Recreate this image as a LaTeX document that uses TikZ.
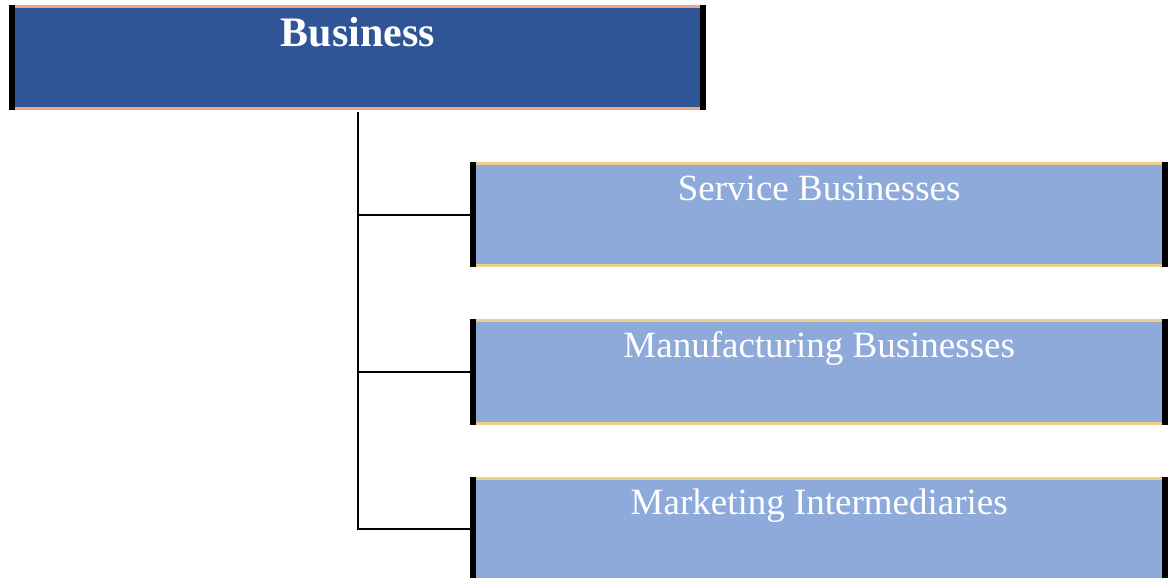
\documentclass[tikz,border=0pt]{standalone}
\usepackage{fontspec}
\setmainfont{Liberation Serif}
\usetikzlibrary{positioning}

\definecolor{bizblue}{HTML}{2F5597}
\definecolor{subblue}{HTML}{8EAADB}
\definecolor{peachline}{HTML}{EBA784}
\definecolor{goldline}{HTML}{ECCF88}

\tikzset{
  %% Top-level box
  headbox/.style={
    rectangle, fill=bizblue, text=white, anchor=north west,
    minimum width=691pt, inner sep=0pt,
    text height=39.5pt, text depth=62.5pt,
    font=\fontsize{42}{42}\selectfont\bfseries
  },
  %% Branch box
  subbox/.style={
    rectangle, fill=subblue, text=white,
    minimum width=692pt, inner sep=0pt,
    text height=36.5pt, text depth=65.5pt,
    font=\fontsize{37}{37}\selectfont
  },
  %% Connector
  link/.style={draw=black, line width=2pt},
  %% Box edges
  rim/.style={draw=#1, line width=3pt},
  side/.style={draw=black, line width=6pt,
               shorten <=-1.5pt, shorten >=-1.5pt},
}

\begin{document}
\begin{tikzpicture}[x=1pt, y=1pt, node distance=55pt]

  \useasboundingbox (0,0) rectangle (1176,578);
  \clip (0,0) rectangle (1176,578);

  \node[headbox] (biz) at (12,571.5) {Business};

  \node[subbox, anchor=north west] (svc) at (473,414.5)
       {Service Businesses};
  \node[subbox, below=of svc] (mfg) {Manufacturing Businesses};
  \node[subbox, below=of mfg] (mkt) {Marketing Intermediaries};

  %% Tree lines
  \foreach \b in {svc, mfg, mkt}
    \draw[link, shorten <=3.5pt] (biz.south) |- (\b.west);

  %% Coloured rims and black sides
  \foreach \n/\c in {biz/peachline, svc/goldline, mfg/goldline, mkt/goldline} {
    \draw[rim=\c] (\n.north west) -- (\n.north east)
                  (\n.south west) -- (\n.south east);
    \draw[side] (\n.north west) -- (\n.south west);
    \draw[side] (\n.north east) -- (\n.south east);
  }

\end{tikzpicture}
\end{document}
